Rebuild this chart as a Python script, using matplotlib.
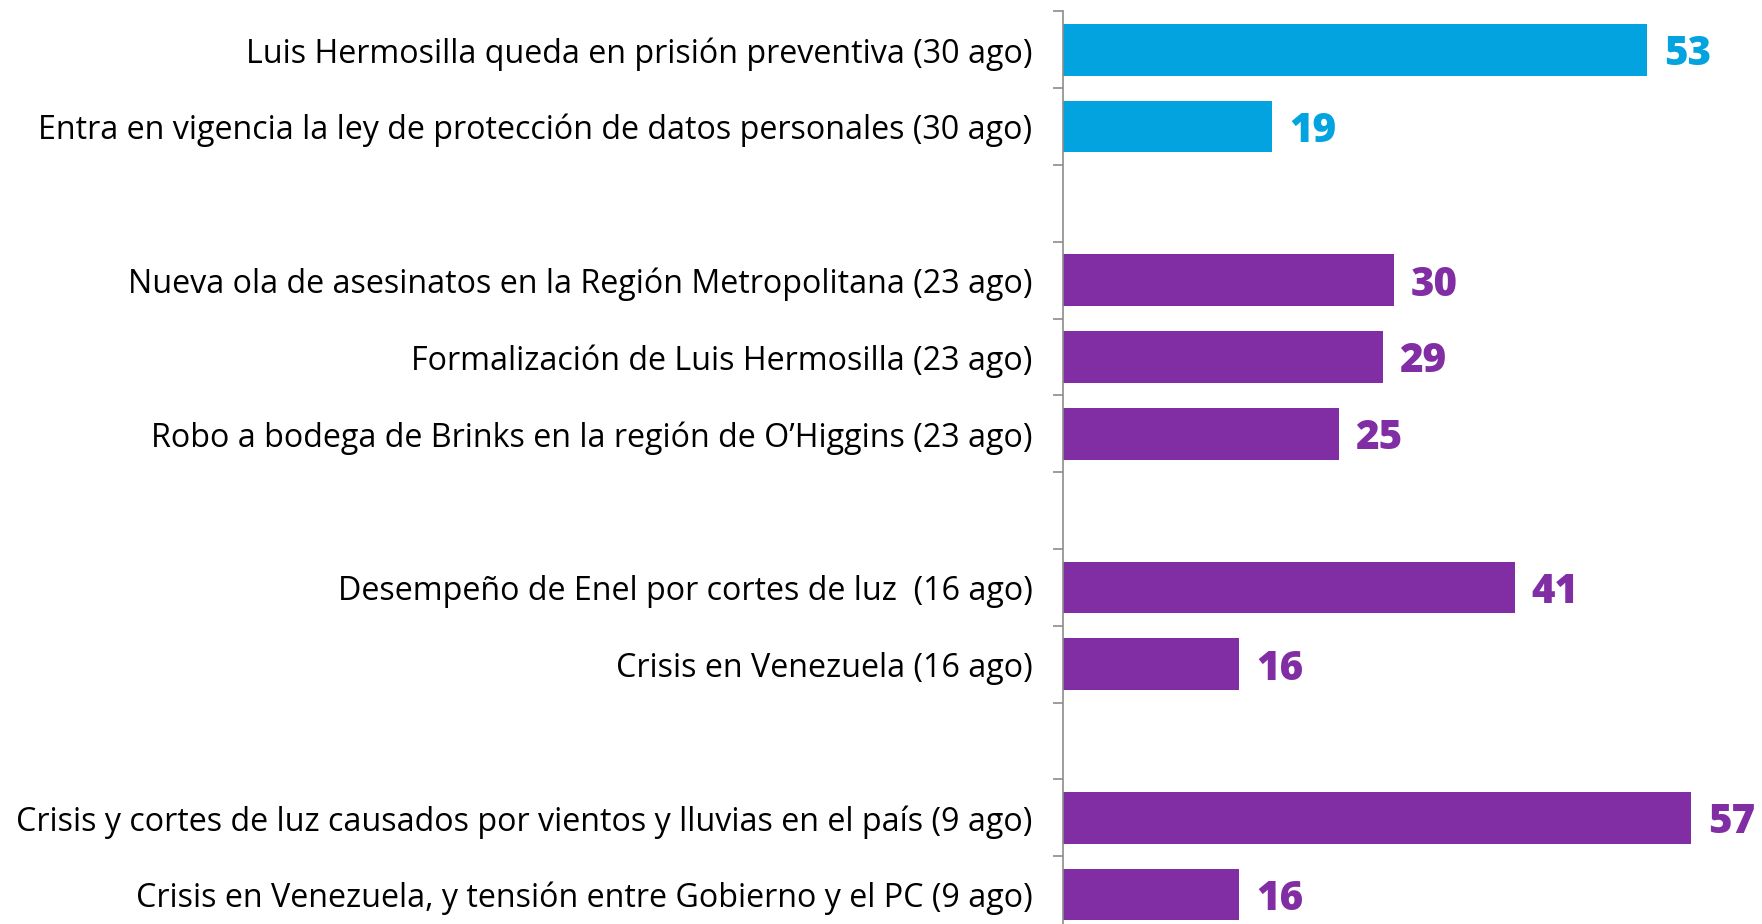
import matplotlib
matplotlib.use('Agg')
import matplotlib.pyplot as plt

plt.rcParams['font.family'] = ['Open Sans', 'DejaVu Sans']

# 每组：标签、数值、颜色（自上而下）
labels_30 = ['Luis Hermosilla queda en prisión preventiva (30 ago)',
             'Entra en vigencia la ley de protección de datos personales (30 ago)']
values_30 = [53, 19]
labels_23 = ['Nueva ola de asesinatos en la Región Metropolitana (23 ago)',
             'Formalización de Luis Hermosilla (23 ago)',
             'Robo a bodega de Brinks en la región de O\u2019Higgins (23 ago)']
values_23 = [30, 29, 25]
labels_16 = ['Desempeño de Enel por cortes de luz  (16 ago)',
             'Crisis en Venezuela (16 ago)']
values_16 = [41, 16]
labels_09 = ['Crisis y cortes de luz causados por vientos y lluvias en el país (9 ago)',
             'Crisis en Venezuela, y tensión entre Gobierno y el PC (9 ago)']
values_09 = [57, 16]

blue = '#03A3E0'
purple = '#812DA4'
groups = [(labels_30, values_30, blue),
          (labels_23, values_23, purple),
          (labels_16, values_16, purple),
          (labels_09, values_09, purple)]

# 组间留一个空位
pos, labels, values, colors = [], [], [], []
slot = 0
for labs, vals, col in groups:
    for l, v in zip(labs, vals):
        pos.append(slot)
        labels.append(l)
        values.append(v)
        colors.append(col)
        slot += 1
    slot += 1
n_slots = slot - 1

fig = plt.figure(figsize=(17.62, 9.24), dpi=100)
ax = fig.add_axes([1063 / 1762, -9 / 924, 699 / 1762, 921.6 / 924])

ax.barh(pos, values, height=0.67, color=colors)
for p, v, c in zip(pos, values, colors):
    ax.annotate(str(v), (v, p), xytext=(12, 0), textcoords='offset points',
                va='center_baseline', ha='left', color=c, fontsize=29, fontweight='heavy')

ax.set_xlim(0, 63.4)
ax.set_ylim(n_slots - 0.5, -0.5)
ax.set_yticks(pos)
ax.set_yticklabels(labels, fontsize=23.2, color='black', va='center_baseline')
ax.set_yticks([i - 0.5 for i in range(n_slots + 1)], minor=True)
ax.tick_params(axis='y', which='major', length=0, pad=22)
ax.tick_params(axis='y', which='minor', length=7, color='#8c8c8c', width=1.2)
ax.set_xticks([])

for s in ['top', 'right', 'bottom']:
    ax.spines[s].set_visible(False)
ax.spines['left'].set_color('#8c8c8c')
ax.spines['left'].set_linewidth(1.2)

fig.savefig('out.png', dpi=100)
